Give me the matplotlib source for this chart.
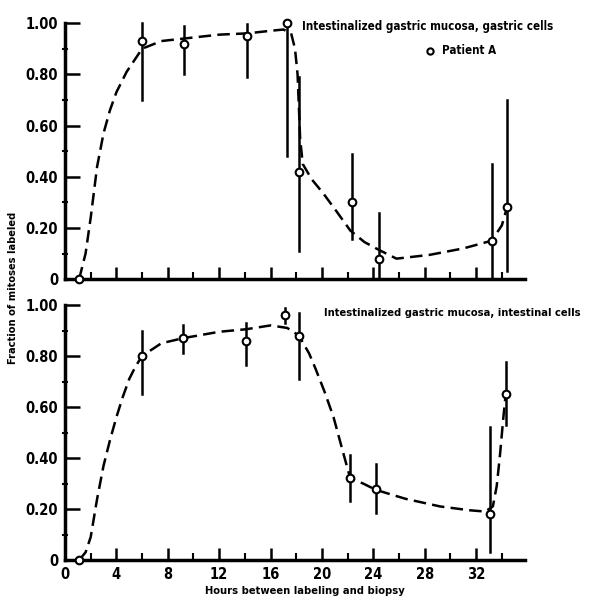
# Fraction of labeled mitoses vs hours, patient A
import numpy as np
import matplotlib.pyplot as plt

plt.rcParams['font.family'] = ['DejaVu Sans']
plt.rcParams['font.stretch'] = 'condensed'
plt.rcParams['font.weight'] = 'bold'

# Panel superior: células gástricas
h_gas = [1.1, 6.0, 9.3, 14.2, 17.3, 18.2, 22.3, 24.4, 33.2, 34.4]
f_gas = [0.0, 0.93, 0.92, 0.95, 1.00, 0.42, 0.30, 0.08, 0.15, 0.28]
lo_gas = [0.0, 0.70, 0.80, 0.79, 0.48, 0.11, 0.155, 0.0, 0.0, 0.03]
hi_gas = [0.0, 1.00, 0.99, 0.995, 1.00, 0.79, 0.49, 0.26, 0.45, 0.70]

# curva ajustada
ch_gas = [1.1, 1.6, 2.0, 2.5, 3.0, 3.5, 4.0, 4.8, 6.0, 7.5, 9.3, 12.0, 14.2, 16.0, 17.0,
          17.6, 17.9, 18.1, 18.3, 18.5, 19.2, 20.1, 21.2, 22.2, 23.3, 24.4, 25.8, 28.4, 31.0, 33.2, 34.0, 34.4]
cf_gas = [0.0, 0.10, 0.24, 0.44, 0.57, 0.66, 0.73, 0.81, 0.90, 0.93, 0.94, 0.955, 0.96, 0.97, 0.975,
          0.96, 0.90, 0.80, 0.55, 0.45, 0.39, 0.335, 0.26, 0.19, 0.145, 0.115, 0.08, 0.095, 0.12, 0.15, 0.21, 0.28]

# Panel inferior: células intestinales
h_int = [1.1, 6.0, 9.2, 14.1, 17.1, 18.2, 22.2, 24.2, 33.1, 34.3]
f_int = [0.0, 0.80, 0.87, 0.86, 0.96, 0.88, 0.32, 0.28, 0.18, 0.65]
lo_int = [0.0, 0.65, 0.81, 0.765, 0.93, 0.71, 0.23, 0.185, 0.03, 0.53]
hi_int = [0.0, 0.90, 0.92, 0.93, 0.99, 0.97, 0.41, 0.375, 0.52, 0.775]

ch_int = [1.1, 1.6, 2.0, 2.5, 3.0, 3.5, 4.0, 4.5, 5.0, 5.5, 6.0, 7.5, 9.2, 12.0, 14.1, 16.0, 17.3,
          18.2, 19.0, 19.5, 20.2, 20.9, 21.6, 22.2, 23.2, 24.2, 26.5, 29.2, 31.5, 32.7, 33.3, 33.6, 33.85, 34.1, 34.3]
cf_int = [0.0, 0.03, 0.09, 0.24, 0.37, 0.47, 0.56, 0.64, 0.71, 0.76, 0.80, 0.85, 0.87, 0.895, 0.905, 0.92, 0.91,
          0.88, 0.81, 0.75, 0.66, 0.56, 0.43, 0.32, 0.30, 0.275, 0.24, 0.21, 0.195, 0.19, 0.21, 0.29, 0.41, 0.55, 0.65]

fig = plt.figure(figsize=(5.92, 5.99), dpi=100)
ax1 = fig.add_axes([0.1098, 0.534, 0.777, 0.4274])
ax2 = fig.add_axes([0.1098, 0.0651, 0.777, 0.4257])


def panel(ax, h, f, lo, hi, ch, cf, etiquetas_x):
    ax.plot(ch, cf, color='black', lw=1.8, dashes=(5, 2.5), clip_on=False)
    for xi, a, b in zip(h, lo, hi):
        ax.plot([xi, xi], [a, b], color='black', lw=1.8, clip_on=False)
    ax.plot(h, f, 'o', ms=5.5, mfc='white', mec='black', mew=1.5, clip_on=False, zorder=5)
    ax.set_xlim(0, 35.8)
    ax.set_ylim(0, 1.0)
    for s in ['top', 'right']:
        ax.spines[s].set_visible(False)
    for s in ['left', 'bottom']:
        ax.spines[s].set_linewidth(2.5)
    ax.set_yticks([0, 0.2, 0.4, 0.6, 0.8, 1.0])
    ax.set_yticklabels(['0', '0.20', '0.40', '0.60', '0.80', '1.00'])
    ax.set_yticks(np.arange(0.1, 1.0, 0.2), minor=True)
    ax.set_xticks(np.arange(0, 36, 4))
    ax.set_xticks(np.arange(2, 36, 4), minor=True)
    ax.tick_params(axis='y', which='major', direction='in', length=11, width=1.8, labelsize=10.5, pad=5)
    ax.tick_params(axis='y', which='minor', direction='inout', length=4, width=1.5)
    ax.tick_params(axis='x', which='major', direction='in', length=9, width=1.8, labelsize=10.5, pad=5)
    ax.tick_params(axis='x', which='minor', direction='in', length=5, width=1.5)
    if not etiquetas_x:
        ax.set_xticklabels([])


panel(ax1, h_gas, f_gas, lo_gas, hi_gas, ch_gas, cf_gas, False)
panel(ax2, h_int, f_int, lo_int, hi_int, ch_int, cf_int, True)

ax1.text(0.515, 0.988, 'Intestinalized gastric mucosa, gastric cells', transform=ax1.transAxes,
         fontsize=8.3, va='center', ha='left')
ax1.plot([0.793], [0.892], 'o', ms=4.5, mfc='white', mec='black', mew=1.5, transform=ax1.transAxes, clip_on=False)
ax1.text(0.82, 0.892, 'Patient A', transform=ax1.transAxes, fontsize=8.3, va='center', ha='left')
ax2.text(0.562, 0.968, 'Intestinalized gastric mucosa, intestinal cells', transform=ax2.transAxes,
         fontsize=8.0, va='center', ha='left')

fig.text(0.022, 0.519, 'Fraction of mitoses labeled', rotation=90, ha='center', va='center', fontsize=7.9)
fig.text(0.515, 0.013, 'Hours between labeling and biopsy', ha='center', va='center', fontsize=8)

fig.savefig('out.png', dpi=100)
